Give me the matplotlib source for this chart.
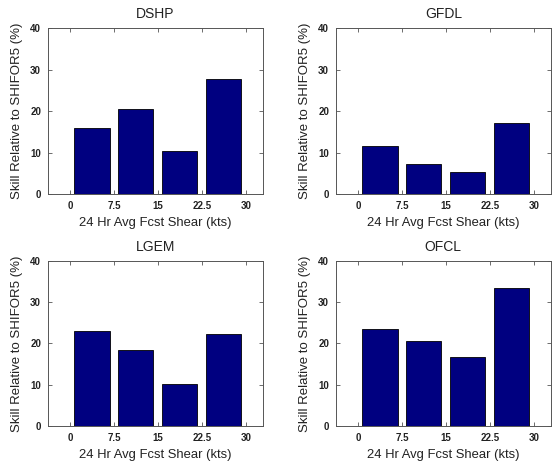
import matplotlib.pyplot as plt

plt.rcParams["font.family"] = ["Liberation Sans", "DejaVu Sans"]

models = ["DSHP", "GFDL", "LGEM", "OFCL"]
bin_centers = [3.75, 11.25, 18.75, 26.25]
xticks = [0, 7.5, 15, 22.5, 30]
xtick_labels = ["0", "7.5", "15", "22.5", "30"]
yticks = [0, 10, 20, 30, 40]

skill_dshp = [16.0, 20.6, 10.3, 27.6]
skill_gfdl = [11.5, 7.2, 5.2, 17.1]
skill_lgem = [23.0, 18.5, 10.2, 22.3]
skill_ofcl = [23.5, 20.5, 16.7, 33.5]

fig = plt.figure(figsize=(5.52, 4.63), dpi=100)

positions = [
    [0.087, 0.581, 0.389, 0.3585],
    [0.6087, 0.581, 0.389, 0.3585],
    [0.087, 0.0799, 0.389, 0.3564],
    [0.6087, 0.0799, 0.389, 0.3564],
]

axis_gray = "#555555"

for name, vals, pos in zip(models, [skill_dshp, skill_gfdl, skill_lgem, skill_ofcl], positions):
    ax = fig.add_axes(pos)
    ax.bar(bin_centers, vals, width=6.0, color="#000080", edgecolor="black", linewidth=0.6)
    ax.set_xlim(-3.75, 32.9)
    ax.set_ylim(0, 40)
    ax.set_xticks(xticks)
    ax.set_xticklabels(xtick_labels)
    ax.set_yticks(yticks)
    ax.tick_params(direction="in", top=True, right=True, length=3, width=0.6,
                   color=axis_gray, labelsize=7, pad=5)
    for lbl in ax.get_xticklabels() + ax.get_yticklabels():
        lbl.set_fontweight("bold")
        lbl.set_color("#222222")
    for s in ax.spines.values():
        s.set_linewidth(0.7)
        s.set_edgecolor(axis_gray)
    ax.set_title(name, fontsize=10, pad=7, color="#222222")
    ax.set_xlabel("24 Hr Avg Fcst Shear (kts)", fontsize=9.4, labelpad=4.5, color="#222222")
    ax.set_ylabel("Skill Relative to SHIFOR5 (%)", fontsize=9.5, labelpad=5, color="#222222")

fig.savefig("out.png", dpi=100)
